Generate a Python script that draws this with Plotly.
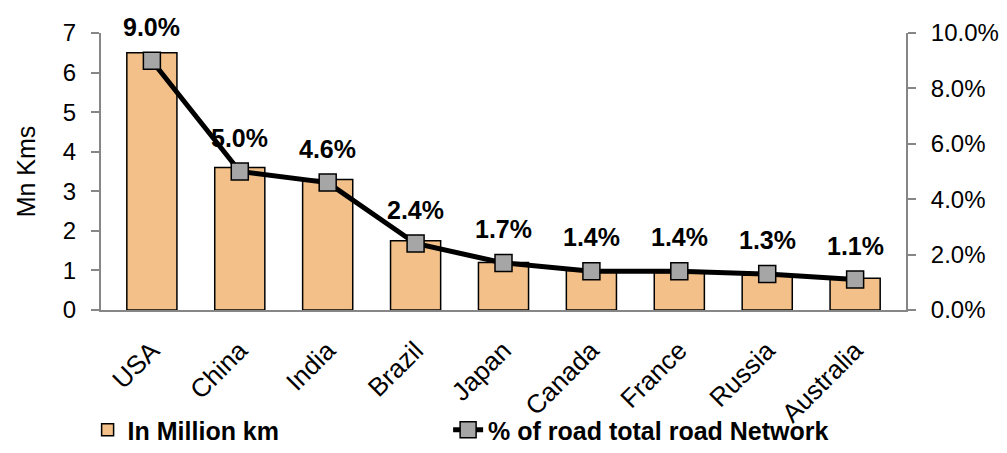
import plotly.graph_objects as go

# Road network length and share of the world's total road network
countries = ["USA", "China", "India", "Brazil", "Japan", "Canada", "France", "Russia", "Australia"]
road_length_mn_km = [6.5, 3.6, 3.3, 1.75, 1.2, 1.0, 0.95, 0.88, 0.8]
share_of_network_pct = [9.0, 5.0, 4.6, 2.4, 1.7, 1.4, 1.4, 1.3, 1.1]

FONT = "Liberation Sans, Arial, sans-serif"
AXIS_GREY = "#868686"
LEGEND_FONT = dict(family=FONT, size=25, color="black", weight="bold")

fig = go.Figure()

fig.add_trace(go.Bar(
    x=countries,
    y=road_length_mn_km,
    name="In Million km",
    marker=dict(color="#F2C088", line=dict(color="black", width=1.5)),
    yaxis="y",
    legend="legend",
))

fig.add_trace(go.Scatter(
    x=countries,
    y=share_of_network_pct,
    name="% of road total road Network",
    mode="lines+markers",
    line=dict(color="black", width=5),
    marker=dict(symbol="square", size=17, color="#A6A6A6",
                line=dict(color="black", width=1.5)),
    yaxis="y2",
    legend="legend2",
))

# Percentage labels above each marker
for c, v in zip(countries, share_of_network_pct):
    fig.add_annotation(
        x=c, y=v, xref="x", yref="y2",
        text=f"<b>{v:.1f}%</b>",
        showarrow=False, yshift=34,
        font=dict(family=FONT, size=25, color="black"),
    )

fig.update_layout(
    width=1007, height=453,
    margin=dict(l=101, r=101, t=33, b=143, autoexpand=False),
    paper_bgcolor="white", plot_bgcolor="white",
    font=dict(family=FONT, size=24, color="black"),
    bargap=0.43,
    showlegend=True,
    legend=dict(
        orientation="h", bgcolor="rgba(0,0,0,0)",
        xref="container", yref="container",
        x=0.087, y=0.0, xanchor="left", yanchor="bottom",
        font=LEGEND_FONT,
    ),
    legend2=dict(
        orientation="h", bgcolor="rgba(0,0,0,0)",
        xref="container", yref="container",
        x=0.445, y=0.0, xanchor="left", yanchor="bottom",
        font=LEGEND_FONT,
    ),
    xaxis=dict(
        type="category", automargin=False,
        showline=True, linecolor=AXIS_GREY, linewidth=2,
        ticks="", tickangle=-45, ticklabelstandoff=13,
        tickfont=dict(family=FONT, size=26),
        showgrid=False, zeroline=False,
    ),
    yaxis=dict(
        range=[0, 7], dtick=1, automargin=False,
        showline=True, linecolor=AXIS_GREY, linewidth=2,
        ticks="outside", ticklen=8, tickcolor=AXIS_GREY, tickwidth=2,
        ticklabelstandoff=10,
        tickfont=dict(family=FONT, size=24),
        title=dict(text="Mn Kms", font=dict(family=FONT, size=25), standoff=20),
        showgrid=False, zeroline=False,
    ),
    yaxis2=dict(
        range=[0, 10], dtick=2, automargin=False,
        overlaying="y", side="right",
        tickformat=".1f", ticksuffix="%",
        showline=True, linecolor=AXIS_GREY, linewidth=2,
        ticks="outside", ticklen=8, tickcolor=AXIS_GREY, tickwidth=2,
        ticklabelstandoff=10,
        tickfont=dict(family=FONT, size=24),
        showgrid=False, zeroline=False,
    ),
)

fig.write_html("out.html")
